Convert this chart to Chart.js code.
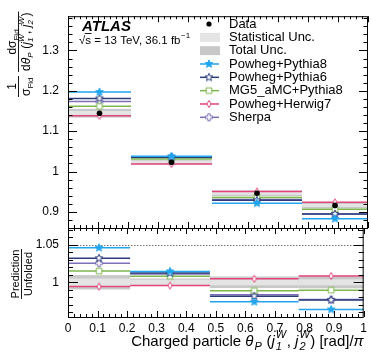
<!DOCTYPE html>
<html>
<head>
<meta charset="utf-8">
<script src="https://cdn.jsdelivr.net/npm/chart.js@4"></script>
<style>
body { margin: 0; background: #fff; }
#wrap { position: relative; width: 371px; height: 356px; }
#wrap canvas { position: absolute; left: 0; top: 0; }
</style>
</head>
<body>
<div id="wrap">
  <canvas id="topPanel" width="371" height="356"></canvas>
  <canvas id="ratioPanel" width="371" height="356"></canvas>
</div>
<script>
// bins in theta_P / pi
var binEdges = [0, 0.21, 0.48, 0.78, 1];
var unfoldedData = [1.1445, 1.023, 0.946, 0.916];
var statUnc = [0.005, 0.0035, 0.004, 0.004];    // relative
var totalUnc = [0.0095, 0.005, 0.0077, 0.008];  // relative
var powhegPythia8 = [1.197, 1.0378, 0.9215, 0.883];
var powhegPythia6 = [1.181, 1.0355, 0.9285, 0.8945];
var mg5Pythia8 = [1.1615, 1.0312, 0.9355, 0.9065];
var powhegHerwig7 = [1.138, 1.0186, 0.9505, 0.9237];
var sherpa = [1.1735, 1.0343, 0.9305, 0.895];
var xTicks = [0, 0.1, 0.2, 0.3, 0.4, 0.5, 0.6, 0.7, 0.8, 0.9, 1];
var yTicksTop = [0.9, 1, 1.1, 1.2, 1.3];
var yTicksRatio = [1, 1.05];

var FONT = "'Liberation Sans', Arial, Helvetica, sans-serif";
Chart.defaults.font.family = FONT;
Chart.defaults.color = '#000';

function makeMarker(shape, color, filled) {
    var c = document.createElement('canvas');
    c.width = 12; c.height = 12;
    var g = c.getContext('2d');
    g.translate(6, 6);
    g.beginPath();
    if (shape === 'star') {
        for (var i = 0; i < 10; i++) {
            var r = i % 2 === 0 ? 4.1 : 1.8;
            var a = -Math.PI / 2 + i * Math.PI / 5;
            if (i === 0) g.moveTo(r * Math.cos(a), r * Math.sin(a));
            else g.lineTo(r * Math.cos(a), r * Math.sin(a));
        }
        g.closePath();
    } else if (shape === 'square') {
        g.rect(-2.8, -2.8, 5.6, 5.6);
    } else if (shape === 'diamond') {
        g.moveTo(0, -3.5); g.lineTo(2.1, 0); g.lineTo(0, 3.5); g.lineTo(-2.1, 0); g.closePath();
    } else if (shape === 'cross') {
        var w = 1.2, l = 3.5;
        g.moveTo(-w, -l); g.lineTo(w, -l); g.lineTo(w, -w); g.lineTo(l, -w); g.lineTo(l, w);
        g.lineTo(w, w); g.lineTo(w, l); g.lineTo(-w, l); g.lineTo(-w, w); g.lineTo(-l, w);
        g.lineTo(-l, -w); g.lineTo(-w, -w); g.closePath();
    }
    g.fillStyle = filled ? color : '#fff';
    g.fill();
    g.lineWidth = 1;
    g.strokeStyle = color;
    g.stroke();
    return c;
}

var models = [
    { name: 'Powheg+Pythia8', values: powhegPythia8, color: '#22a5ee', shape: 'star', filled: true },
    { name: 'Powheg+Pythia6', values: powhegPythia6, color: '#2c3c7c', shape: 'star', filled: false },
    { name: 'MG5_aMC+Pythia8', values: mg5Pythia8, color: '#7cb74c', shape: 'square', filled: false },
    { name: 'Powheg+Herwig7', values: powhegHerwig7, color: '#e2447c', shape: 'diamond', filled: false },
    { name: 'Sherpa', values: sherpa, color: '#7d70b6', shape: 'cross', filled: false }
];
models.forEach(function (m) { m.marker = makeMarker(m.shape, m.color, m.filled); });

function stepPoints(values) {
    var pts = [];
    for (var i = 0; i < values.length; i++) {
        var lo = binEdges[i], hi = binEdges[i + 1];
        pts.push({ x: lo, y: values[i] }, { x: (lo + hi) / 2, y: values[i] }, { x: hi, y: values[i] }, { x: hi, y: null });
    }
    return pts;
}

function modelDataset(m, values, order) {
    return {
        data: stepPoints(values),
        borderColor: m.color,
        borderWidth: 1.5,
        spanGaps: false,
        order: order,
        pointStyle: function (ctx) { return ctx.index % 4 === 1 ? m.marker : 'circle'; },
        pointRadius: function (ctx) { return ctx.index % 4 === 1 ? 5 : 0; }
    };
}

function fmt(v) { return String(+Number(v).toFixed(2)); }

var font = function (size, style) { return (style || '') + ' ' + size + 'px ' + FONT; };

// text with sub/superscripts, returns width
function drawRich(ctx, parts, x, y, measureOnly) {
    var x0 = x;
    parts.forEach(function (p) {
        if (p.gap) { x += p.gap; return; }
        if (p.sub !== undefined || p.sup !== undefined) {
            ctx.font = font(p.size, p.style);
            var w1 = p.sub ? ctx.measureText(p.sub).width : 0;
            var w2 = p.sup ? ctx.measureText(p.sup).width : 0;
            if (!measureOnly) {
                if (p.sub) ctx.fillText(p.sub, x, y + p.size * 0.35);
                if (p.sup) ctx.fillText(p.sup, x, y - p.size * 0.7);
            }
            x += Math.max(w1, w2) + 0.5;
        } else {
            ctx.font = font(p.size, p.style);
            if (!measureOnly) ctx.fillText(p.t, x, y + (p.dy || 0));
            x += ctx.measureText(p.t).width;
        }
    });
    return x - x0;
}

function bandPlugin(isRatio) {
    return {
        id: 'bands',
        beforeDatasetsDraw: function (chart) {
            var ctx = chart.ctx, xs = chart.scales.x, ys = chart.scales.y;
            ctx.save();
            for (var i = 0; i < unfoldedData.length; i++) {
                var c = isRatio ? 1 : unfoldedData[i];
                var x1 = xs.getPixelForValue(binEdges[i]), x2 = xs.getPixelForValue(binEdges[i + 1]);
                [[totalUnc, '#c8c8c8'], [statUnc, '#e4e4e4']].forEach(function (b) {
                    var y1 = ys.getPixelForValue(c * (1 + b[0][i])), y2 = ys.getPixelForValue(c * (1 - b[0][i]));
                    ctx.fillStyle = b[1];
                    ctx.fillRect(x1, y1, x2 - x1, y2 - y1);
                });
            }
            if (isRatio) {
                var yd = Math.round(ys.getPixelForValue(1.05)) + 0.5;
                ctx.strokeStyle = '#777';
                ctx.lineWidth = 1;
                ctx.setLineDash([1.5, 1.5]);
                ctx.beginPath();
                ctx.moveTo(chart.chartArea.left, yd);
                ctx.lineTo(chart.chartArea.right, yd);
                ctx.stroke();
            }
            ctx.restore();
        }
    };
}

function framePlugin(cfg) {
    return {
        id: 'frame',
        afterDraw: function (chart) {
            var a = chart.chartArea, ctx = chart.ctx, xs = chart.scales.x, ys = chart.scales.y;
            ctx.save();
            ctx.strokeStyle = '#000';
            ctx.lineWidth = 1;
            ctx.strokeRect(a.left + 0.5, a.top + 0.5, a.right - a.left - 1, a.bottom - a.top);
            ctx.beginPath();
            for (var k = 0; k <= 50; k++) {
                var px = Math.round(xs.getPixelForValue(k * 0.02)) + 0.5;
                var len = k % 5 === 0 ? cfg.xMajor : cfg.xMinor;
                ctx.moveTo(px, a.bottom); ctx.lineTo(px, a.bottom - len);
                ctx.moveTo(px, a.top); ctx.lineTo(px, a.top + len);
            }
            var n0 = Math.ceil(ys.min / cfg.yStep - 1e-6), n1 = Math.floor(ys.max / cfg.yStep + 1e-6);
            for (var n = n0; n <= n1; n++) {
                var v = n * cfg.yStep;
                var py = Math.round(ys.getPixelForValue(v)) + 0.5;
                var q = v / cfg.yMajorStep;
                var l2 = Math.abs(q - Math.round(q)) < 1e-6 ? cfg.yMajor : cfg.yMinor;
                ctx.moveTo(a.left, py); ctx.lineTo(a.left + l2, py);
                ctx.moveTo(a.right, py); ctx.lineTo(a.right - l2, py);
            }
            ctx.stroke();
            ctx.restore();
        }
    };
}

var topDecor = {
    id: 'topDecor',
    afterDraw: function (chart) {
        var ctx = chart.ctx;
        ctx.save();
        ctx.fillStyle = '#000';
        ctx.textBaseline = 'alphabetic';
        // ATLAS label
        ctx.font = font(15, 'italic bold');
        ctx.fillText('ATLAS', 82, 30.5);
        ctx.font = font(11.5);
        ctx.fillText('\u221A', 79, 43.5);
        var xs0 = 79 + ctx.measureText('\u221A').width;
        var ws = ctx.measureText('s').width;
        ctx.fillText('s', xs0, 43.5);
        ctx.fillRect(xs0 - 0.5, 33, ws + 1, 0.9);
        var rest = ' = 13 TeV, 36.1 fb';
        ctx.fillText(rest, xs0 + ws, 43.5);
        var xe = xs0 + ws + ctx.measureText(rest).width;
        ctx.font = font(8);
        ctx.fillText('\u22121', xe + 0.5, 38);

        // legend
        var rowY = 24, step = 13.33, lx = 229;
        ctx.font = font(13);
        ctx.textBaseline = 'middle';
        ctx.fillText('Data', lx, rowY);
        ctx.beginPath(); ctx.arc(209, rowY, 2.6, 0, Math.PI * 2); ctx.fill();
        ctx.fillStyle = '#e4e4e4'; ctx.fillRect(200, rowY + step - 4.5, 20, 9);
        ctx.fillStyle = '#c8c8c8'; ctx.fillRect(200, rowY + 2 * step - 4.5, 20, 9);
        ctx.fillStyle = '#000';
        ctx.fillText('Statistical Unc.', lx, rowY + step);
        ctx.fillText('Total Unc.', lx, rowY + 2 * step);
        models.forEach(function (m, i) {
            var y = rowY + (i + 3) * step;
            ctx.strokeStyle = m.color; ctx.lineWidth = 1.5;
            ctx.beginPath(); ctx.moveTo(200, y); ctx.lineTo(219, y); ctx.stroke();
            ctx.drawImage(m.marker, 209 - 6, y - 6);
            ctx.fillStyle = '#000';
            ctx.fillText(m.name, lx, y);
        });

        // y title
        ctx.textBaseline = 'alphabetic';
        ctx.translate(18.5, 97);
        ctx.rotate(-Math.PI / 2);
        var num1 = [{ t: '1', size: 12 }];
        var den1 = [{ t: '\u03C3', size: 12 }, { sub: 'Fid', size: 8 }];
        var num2 = [{ t: 'd\u03C3', size: 12 }, { sub: 'Fid', size: 8 }];
        var den2 = [{ t: 'd', size: 12 }, { t: '\u03B8', size: 12, style: 'italic' }, { sub: 'P', size: 8, style: 'italic' },
            { t: ' (', size: 12 }, { t: 'j', size: 12, style: 'italic' }, { sub: '1', sup: 'W', size: 8, style: 'italic' },
            { t: ', ', size: 12 }, { t: 'j', size: 12, style: 'italic' }, { sub: '2', sup: 'W', size: 8, style: 'italic' },
            { t: ')', size: 12 }];
        var x = 0;
        [[num1, den1], [num2, den2]].forEach(function (fr) {
            var wn = drawRich(ctx, fr[0], 0, 0, true), wd = drawRich(ctx, fr[1], 0, 0, true);
            var wb = Math.max(wn, wd) + 2;
            drawRich(ctx, fr[0], x + (wb - wn) / 2, -2.5);
            drawRich(ctx, fr[1], x + (wb - wd) / 2, 11.5);
            ctx.fillRect(x, -0.5, wb, 0.9);
            x += wb + 4;
        });
        ctx.restore();
    }
};

var ratioDecor = {
    id: 'ratioDecor',
    afterDraw: function (chart) {
        var ctx = chart.ctx;
        ctx.save();
        ctx.fillStyle = '#000';
        ctx.textBaseline = 'alphabetic';
        // x title, right aligned to the frame
        var parts = [{ t: 'Charged particle ', size: 15 }, { t: '\u03B8', size: 15, style: 'italic' }, { gap: 1 }, { sub: 'P', size: 11, style: 'italic' },
            { t: ' (', size: 15 }, { t: 'j', size: 15, style: 'italic' }, { gap: 1 }, { sub: '1', sup: 'W', size: 11, style: 'italic' },
            { t: ', ', size: 15 }, { t: 'j', size: 15, style: 'italic' }, { gap: 1 }, { sub: '2', sup: 'W', size: 11, style: 'italic' },
            { t: ') [rad]/', size: 15 }, { t: '\u03C0', size: 15, style: 'italic' }];
        var w = drawRich(ctx, parts, 0, 0, true);
        drawRich(ctx, parts, chart.chartArea.right - w, 346);
        // y title
        ctx.translate(21.5, 274);
        ctx.rotate(-Math.PI / 2);
        ctx.font = font(11);
        var wp = ctx.measureText('Prediction').width, wu = ctx.measureText('Unfolded').width;
        var wb = Math.max(wp, wu) + 1;
        ctx.fillText('Prediction', -wp / 2, -2.5);
        ctx.fillText('Unfolded', -wu / 2, 10);
        ctx.fillRect(-wb / 2, -0.5, wb, 0.9);
        ctx.restore();
    }
};

// top panel datasets
var topSets = [{
    data: unfoldedData.map(function (v, i) { return { x: (binEdges[i] + binEdges[i + 1]) / 2, y: v }; }),
    showLine: false,
    pointStyle: 'circle',
    pointRadius: 2.8,
    backgroundColor: '#000',
    borderColor: '#000',
    borderWidth: 0,
    order: 0
}];
models.forEach(function (m, i) { topSets.push(modelDataset(m, m.values, i + 1)); });

var ratioSets = [];
models.forEach(function (m, i) {
    ratioSets.push(modelDataset(m, m.values.map(function (v, k) { return v / unfoldedData[k]; }), i + 1));
});

function yAxis(min, max, ticks) {
    return {
        type: 'linear', min: min, max: max,
        afterFit: function (s) { s.width = 68; },
        afterBuildTicks: function (a) { a.ticks = ticks.map(function (v) { return { value: v }; }); },
        grid: { display: false, drawTicks: false },
        border: { display: false },
        ticks: { padding: 9, font: { size: 12 }, color: '#000', callback: fmt }
    };
}

new Chart(document.getElementById('topPanel'), {
    type: 'line',
    data: { datasets: topSets },
    options: {
        responsive: false,
        animation: false,
        events: [],
        layout: { padding: { left: 0, right: 3, top: 8, bottom: 128 }, autoPadding: false },
        plugins: { legend: { display: false }, tooltip: { enabled: false } },
        scales: {
            x: { type: 'linear', min: 0, max: 1, display: false },
            y: yAxis(0.86, 1.385, yTicksTop)
        }
    },
    plugins: [bandPlugin(false), framePlugin({ xMajor: 6, xMinor: 3, yStep: 0.02, yMajorStep: 0.1, yMajor: 9, yMinor: 4.5 }), topDecor]
});

new Chart(document.getElementById('ratioPanel'), {
    type: 'line',
    data: { datasets: ratioSets },
    options: {
        responsive: false,
        animation: false,
        events: [],
        layout: { padding: { left: 0, right: 3, top: 228, bottom: 0 }, autoPadding: false },
        plugins: { legend: { display: false }, tooltip: { enabled: false } },
        scales: {
            x: {
                type: 'linear', min: 0, max: 1,
                afterFit: function (s) { s.height = 39; },
                afterBuildTicks: function (a) { a.ticks = xTicks.map(function (v) { return { value: v }; }); },
                grid: { display: false, drawTicks: false },
                border: { display: false },
                ticks: { padding: 4, font: { size: 12 }, color: '#000', maxRotation: 0, autoSkip: false, callback: fmt }
            },
            y: yAxis(0.954, 1.072, yTicksRatio)
        }
    },
    plugins: [bandPlugin(true), framePlugin({ xMajor: 6, xMinor: 3, yStep: 0.01, yMajorStep: 0.05, yMajor: 10, yMinor: 5 }), ratioDecor]
});
</script>
</body>
</html>
